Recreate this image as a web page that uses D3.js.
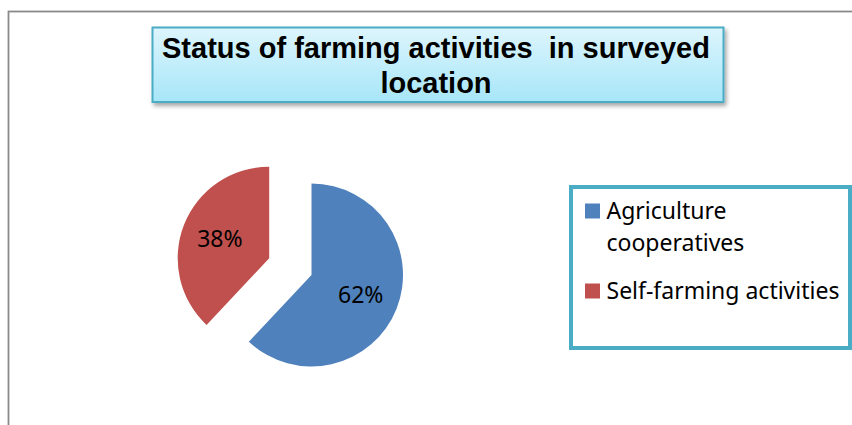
<!DOCTYPE html>
<html>
<head>
<meta charset="utf-8">
<script src="https://cdn.jsdelivr.net/npm/d3@7"></script>
<style>
  body { margin: 0; background: #fff; }
  svg { display: block; }
</style>
</head>
<body>
<div id="container"></div>
<script>
// dados do grafico
var categorias = ["Agriculture cooperatives", "Self-farming activities"];
var valores = [62, 38];
var cores = ["#4F81BD", "#C0504D"];
var tituloLinhas = ["Status of farming activities  in surveyed", "location"];

var w = 852;
var h = 425;

var svg = d3.select("div#container")
            .append("svg")
            .attr("width", w)
            .attr("height", h);

var defs = svg.append("defs");
var grad = defs.append("linearGradient")
    .attr("id", "gradTitulo")
    .attr("x1", 0).attr("y1", 0).attr("x2", 0).attr("y2", 1);
grad.append("stop").attr("offset", "0%").attr("stop-color", "#ddf5fd");
grad.append("stop").attr("offset", "100%").attr("stop-color", "#a7e6f8");

var sombra = defs.append("filter").attr("id", "sombra")
    .attr("x", "-10%").attr("y", "-20%").attr("width", "120%").attr("height", "150%");
sombra.append("feDropShadow")
    .attr("dx", 2).attr("dy", 3).attr("stdDeviation", 2)
    .attr("flood-color", "#000").attr("flood-opacity", 0.35);

// borda externa
svg.append("rect")
    .attr("x", 8.5).attr("y", 11.5)
    .attr("width", w).attr("height", h)
    .attr("fill", "none")
    .attr("stroke", "#8a8a8a")
    .attr("stroke-width", 1.8);

// titulo
svg.append("rect")
    .attr("x", 152.5).attr("y", 27.5)
    .attr("width", 571).attr("height", 74.5)
    .attr("fill", "url(#gradTitulo)")
    .attr("stroke", "#4BACC6")
    .attr("stroke-width", 2)
    .attr("filter", "url(#sombra)");

svg.selectAll("text.titulo")
    .data(tituloLinhas)
    .enter()
    .append("text")
    .attr("class", "titulo")
    .attr("x", 436)
    .attr("y", function(d, i) { return 58 + i * 35; })
    .attr("text-anchor", "middle")
    .style("font-family", "'Liberation Sans', Arial, sans-serif")
    .style("font-weight", "bold")
    .style("font-size", "29px")
    .style("white-space", "pre")
    .attr("fill", "#000")
    .text(function(d) { return d; });

// pizza
var cx = 311.5, cy = 275, raio = 91.5;
var pie = d3.pie().sort(null).startAngle(0).endAngle(2 * Math.PI);
var arco = d3.arc().innerRadius(0).outerRadius(raio);
var arcoLabel = d3.arc().innerRadius(53).outerRadius(53);
var fatias = pie(valores);

var g = svg.append("g").attr("transform", "translate(" + cx + "," + cy + ")");

// deslocamento da fatia vermelha (explodida)
function desloc(d, i) {
    var dist = i == 1 ? 45.5 : 0;
    var a = (d.startAngle + d.endAngle) / 2;
    return [Math.sin(a) * dist, -Math.cos(a) * dist];
}

var gf = g.selectAll("g.fatia")
    .data(fatias)
    .enter()
    .append("g")
    .attr("class", "fatia")
    .attr("transform", function(d, i) {
        var o = desloc(d, i);
        return "translate(" + o[0] + "," + o[1] + ")";
    });

gf.append("path")
    .attr("d", arco)
    .attr("fill", function(d, i) { return cores[i]; });

gf.append("text")
    .attr("transform", function(d) {
        var c = arcoLabel.centroid(d);
        return "translate(" + c[0] + "," + c[1] + ")";
    })
    .attr("text-anchor", "middle")
    .attr("dy", "0.36em")
    .style("font-family", "'Noto Sans', 'Open Sans', sans-serif")
    .style("font-size", "23px")
    .attr("fill", "#000")
    .text(function(d) { return d.data + "%"; });

// legenda
svg.append("rect")
    .attr("x", 571).attr("y", 187)
    .attr("width", 279).attr("height", 161)
    .attr("fill", "#fff")
    .attr("stroke", "#4BACC6")
    .attr("stroke-width", 4);

var legX = 585, textoX = 606.5, larguraMax = 240;
var baseY = 218.5, entreLinhas = 32, entreItens = 16;

categorias.forEach(function(cat, i) {
    var t = svg.append("text")
        .attr("x", textoX)
        .attr("y", baseY)
        .style("font-family", "'Noto Sans', 'Open Sans', sans-serif")
        .style("font-size", "23px")
        .attr("fill", "#000");

    // quebra de linha simples
    var palavras = cat.split(" ");
    var linhas = [];
    var atual = "";
    palavras.forEach(function(p) {
        var teste = atual ? atual + " " + p : p;
        t.text(teste);
        if (atual && t.node().getComputedTextLength() > larguraMax) {
            linhas.push(atual);
            atual = p;
        } else {
            atual = teste;
        }
    });
    linhas.push(atual);
    t.text(null);

    svg.append("rect")
        .attr("x", legX).attr("y", baseY - 15)
        .attr("width", 15).attr("height", 15)
        .attr("fill", cores[i]);

    linhas.forEach(function(l, j) {
        t.append("tspan")
            .attr("x", textoX)
            .attr("y", baseY + j * entreLinhas)
            .text(l);
    });
    baseY = baseY + linhas.length * entreLinhas + entreItens;
});
</script>
</body>
</html>
